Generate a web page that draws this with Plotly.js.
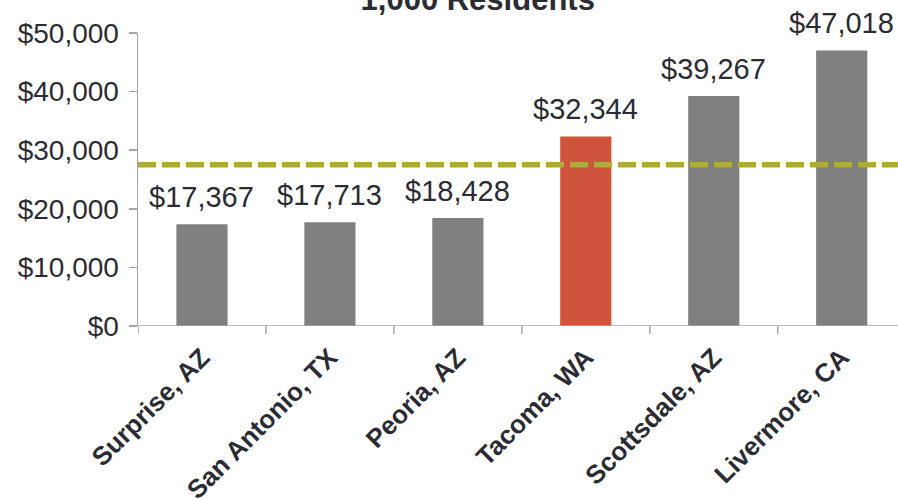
<!DOCTYPE html>
<html>
<head>
<meta charset="utf-8">
<script src="https://cdn.plot.ly/plotly-3.0.1.min.js"></script>
<style>html,body{margin:0;padding:0;background:#fff;}#chart{width:898px;height:499px;}</style>
</head>
<body>
<div id="chart"></div>
<script>
const cities = ["Surprise, AZ", "San Antonio, TX", "Peoria, AZ", "Tacoma, WA", "Scottsdale, AZ", "Livermore, CA"];
const values = [17367, 17713, 18428, 32344, 39267, 47018];
const barColors = ["#808080", "#808080", "#808080", "#D0533B", "#808080", "#808080"];
const averageValue = 27500;
const titleText = "1,000 Residents";
const yTickVals = [0, 10000, 20000, 30000, 40000, 50000];
const yTickText = ["$0", "$10,000", "$20,000", "$30,000", "$40,000", "$50,000"];

const fmt = v => "$" + v.toLocaleString("en-US");
const FONT = "Liberation Sans, Arial, sans-serif";

const trace = {
  type: "bar",
  x: cities,
  y: values,
  marker: {color: barColors},
  width: 0.4,
  hoverinfo: "skip"
};

const annotations = cities.map((c, i) => ({
  x: c, y: values[i], xref: "x", yref: "y",
  text: fmt(values[i]), showarrow: false,
  yanchor: "bottom", yshift: 9,
  font: {family: FONT, size: 29, color: "#2b2b33"}
}));

const layout = {
  width: 898, height: 499,
  margin: {l: 138, r: 0, t: 33, b: 173},
  paper_bgcolor: "#ffffff", plot_bgcolor: "#ffffff",
  showlegend: false,
  title: {
    text: titleText,
    font: {family: FONT, size: 31, color: "#2b2b33", weight: "bold"},
    x: 0.532, xanchor: "center", xref: "container",
    y: 0.98, yanchor: "bottom", yref: "container"
  },
  xaxis: {
    type: "category",
    range: [-0.5, 5.44],
    tickangle: -45,
    showline: false, showgrid: false, zeroline: false,
    ticks: "",
    ticklabelstandoff: 10,
    tickfont: {family: FONT, size: 26, color: "#2b2b33", weight: "bold"}
  },
  yaxis: {
    range: [0, 50000],
    tickvals: yTickVals, ticktext: yTickText,
    showgrid: false, zeroline: false,
    showline: true, linecolor: "#a6a6a6", linewidth: 1.5,
    ticks: "outside", ticklen: 8, tickcolor: "#a6a6a6", tickwidth: 1.5,
    ticklabelstandoff: 4,
    tickfont: {family: FONT, size: 28, color: "#2b2b33"}
  },
  annotations: annotations,
  shapes: [
    {type: "line", xref: "paper", yref: "y", x0: 0, x1: 1, y0: averageValue, y1: averageValue,
     line: {color: "#B0AA3B", width: 5.5, dash: "18px,6px"}},
    {type: "line", xref: "paper", yref: "y", x0: 0, x1: 1, y0: 0, y1: 0,
     line: {color: "#a6a6a6", width: 1.5}}
  ]
};

for (let i = 0; i <= cities.length; i++) {
  layout.shapes.push({type: "line", xref: "x", yref: "paper", x0: i - 0.5, x1: i - 0.5,
    ysizemode: "pixel", yanchor: 0, y0: -8, y1: 0,
    line: {color: "#a6a6a6", width: 1.5}});
}

Plotly.newPlot("chart", [trace], layout, {staticPlot: true});
</script>
</body>
</html>
